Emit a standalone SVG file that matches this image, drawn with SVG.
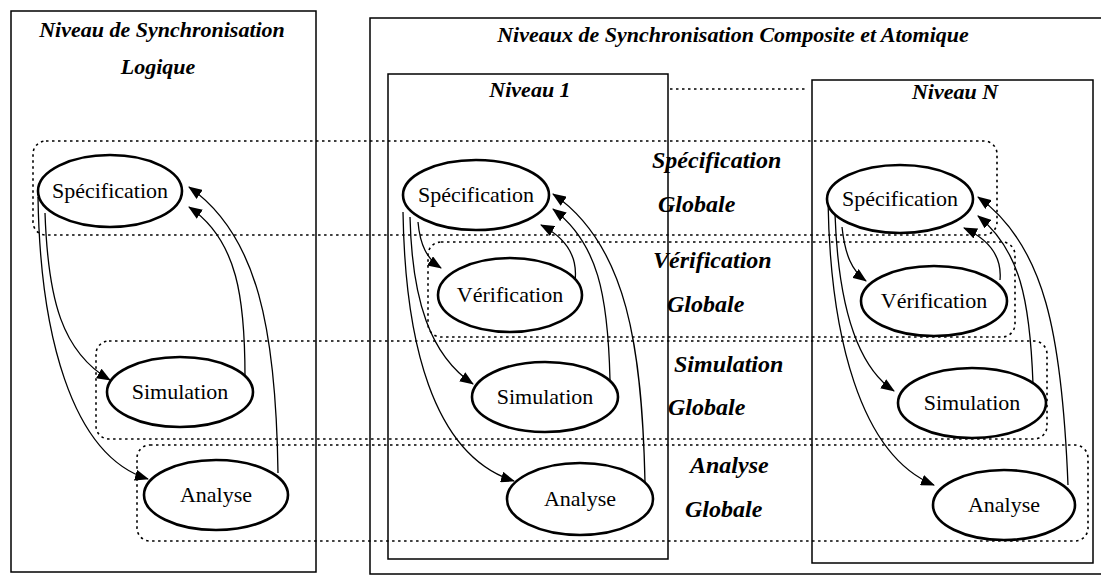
<svg xmlns="http://www.w3.org/2000/svg" width="1101" height="580" viewBox="0 0 1101 580">
<defs>
<marker id="ah" markerUnits="userSpaceOnUse" markerWidth="15" markerHeight="11" refX="13" refY="5.5" orient="auto">
<path d="M0,0 L14,5.5 L0,11 z" fill="#000"/>
</marker>
</defs>
<style>
.panel{fill:none;stroke:#000;stroke-width:1.5}
.band{fill:none;stroke:#000;stroke-width:1.6;stroke-dasharray:2.5 3.5}
.node ellipse{fill:#fff;stroke:#000;stroke-width:2.6}
.node text{font-family:"Liberation Serif",serif;font-size:22px;text-anchor:middle;fill:#000}
.title{font-family:"Liberation Serif",serif;font-size:22px;font-weight:bold;font-style:italic;text-anchor:middle;fill:#000}
.blabel{font-family:"Liberation Serif",serif;font-size:24px;font-weight:bold;font-style:italic;fill:#000}
.edge{fill:none;stroke:#000;stroke-width:1.3;marker-end:url(#ah)}
</style>
<rect width="1101" height="580" fill="#fff"/>

<g id="panels">
<rect class="panel" x="11" y="11" width="305" height="561"/>
<rect class="panel" x="370" y="18" width="745" height="556"/>
<rect class="panel" x="388" y="74" width="280" height="485"/>
<rect class="panel" x="812" y="80" width="281" height="483"/>
<line class="band" x1="670" y1="89" x2="808" y2="89"/>
</g>

<g id="titles">
<text class="title" x="162" y="37">Niveau de Synchronisation</text>
<text class="title" x="158" y="74">Logique</text>
<text class="title" x="733" y="42">Niveaux de Synchronisation Composite et Atomique</text>
<text class="title" x="530" y="97">Niveau 1</text>
<text class="title" x="955" y="99">Niveau N</text>
</g>

<g id="bands">
<rect class="band" x="33" y="141" width="964" height="94" rx="13"/>
<rect class="band" x="428" y="242" width="587" height="95" rx="13"/>
<rect class="band" x="96" y="341" width="951" height="98" rx="13"/>
<rect class="band" x="137" y="445" width="951" height="96" rx="13"/>
</g>

<g id="band-labels">
<text class="blabel" x="652" y="168">Spécification</text>
<text class="blabel" x="658" y="212">Globale</text>
<text class="blabel" x="653" y="268">Vérification</text>
<text class="blabel" x="667" y="312">Globale</text>
<text class="blabel" x="674" y="372">Simulation</text>
<text class="blabel" x="668" y="415">Globale</text>
<text class="blabel" x="690" y="473">Analyse</text>
<text class="blabel" x="685" y="517">Globale</text>
</g>

<g id="connectors">
<path class="edge" d="M45,213 C48,300 62,352 110,380"/>
<path class="edge" d="M38,197 C40,330 70,455 148,479"/>
<path class="edge" d="M245,377 C245,300 238,240 189,207"/>
<path class="edge" d="M278,473 C276,330 258,235 189,187"/>
<path class="edge" d="M418,222 C420,245 427,259 441,268"/>
<path class="edge" d="M410,217 C412,300 430,355 473,384"/>
<path class="edge" d="M403,212 C405,340 432,455 514,481"/>
<path class="edge" d="M575,281 C578,257 566,238 541,225"/>
<path class="edge" d="M610,380 C608,295 598,243 553,209"/>
<path class="edge" d="M645,482 C642,350 628,245 553,194"/>
<path class="edge" d="M842,227 C845,255 852,271 866,281"/>
<path class="edge" d="M835,214 C838,300 855,365 894,391"/>
<path class="edge" d="M828,200 C830,335 860,455 934,485"/>
<path class="edge" d="M1000,280 C1002,258 990,240 964,228"/>
<path class="edge" d="M1033,384 C1030,300 1020,250 978,216"/>
<path class="edge" d="M1068,485 C1062,335 1045,245 978,197"/>
</g>

<g id="node-l-spec" class="node"><ellipse cx="110" cy="191" rx="72" ry="36"/><text x="110" y="198">Spécification</text></g>
<g id="node-l-sim" class="node"><ellipse cx="180" cy="392" rx="73" ry="35"/><text x="180" y="399">Simulation</text></g>
<g id="node-l-ana" class="node"><ellipse cx="216" cy="495" rx="72" ry="35"/><text x="216" y="502">Analyse</text></g>

<g id="node-1-spec" class="node"><ellipse cx="476" cy="195" rx="73" ry="35"/><text x="476" y="202">Spécification</text></g>
<g id="node-1-ver" class="node"><ellipse cx="510" cy="295" rx="72" ry="37"/><text x="510" y="302">Vérification</text></g>
<g id="node-1-sim" class="node"><ellipse cx="545" cy="397" rx="73" ry="35"/><text x="545" y="404">Simulation</text></g>
<g id="node-1-ana" class="node"><ellipse cx="580" cy="499" rx="73" ry="36"/><text x="580" y="506">Analyse</text></g>

<g id="node-n-spec" class="node"><ellipse cx="900" cy="199" rx="73" ry="34"/><text x="900" y="206">Spécification</text></g>
<g id="node-n-ver" class="node"><ellipse cx="934" cy="301" rx="73" ry="35"/><text x="934" y="308">Vérification</text></g>
<g id="node-n-sim" class="node"><ellipse cx="972" cy="403" rx="74" ry="35"/><text x="972" y="410">Simulation</text></g>
<g id="node-n-ana" class="node"><ellipse cx="1004" cy="505" rx="71" ry="35"/><text x="1004" y="512">Analyse</text></g>
</svg>
